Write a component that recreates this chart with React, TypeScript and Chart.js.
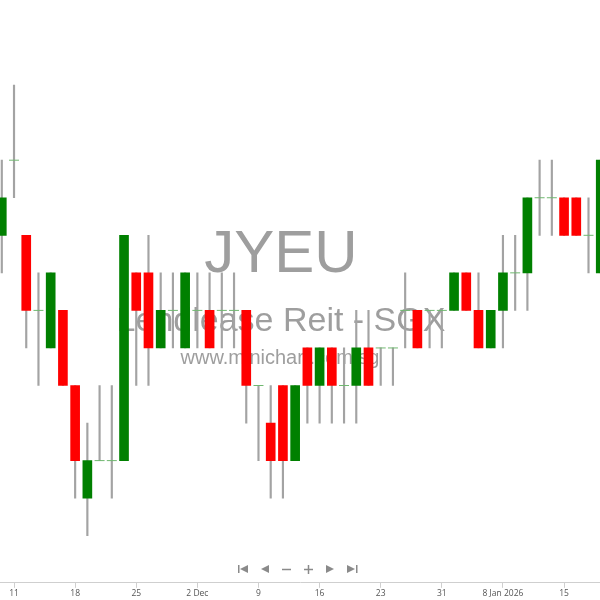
import React, { useEffect, useRef } from "react";
import { Chart, registerables } from "chart.js";

Chart.register(...registerables);

const dates = [
  "2025-11-10", "2025-11-11", "2025-11-12", "2025-11-13", "2025-11-14",
  "2025-11-17", "2025-11-18", "2025-11-19", "2025-11-20", "2025-11-21",
  "2025-11-24", "2025-11-25", "2025-11-26", "2025-11-27", "2025-11-28",
  "2025-12-01", "2025-12-02", "2025-12-03", "2025-12-04", "2025-12-05",
  "2025-12-08", "2025-12-09", "2025-12-10", "2025-12-11", "2025-12-12",
  "2025-12-15", "2025-12-16", "2025-12-17", "2025-12-18", "2025-12-19",
  "2025-12-22", "2025-12-23", "2025-12-24", "2025-12-26", "2025-12-29",
  "2025-12-30", "2025-12-31", "2026-01-02", "2026-01-05", "2026-01-06",
  "2026-01-07", "2026-01-08", "2026-01-09", "2026-01-12", "2026-01-13",
  "2026-01-14", "2026-01-15", "2026-01-16", "2026-01-19", "2026-01-20",
];

const openPrices = [
  0.600, 0.610, 0.600, 0.590, 0.585, 0.590, 0.580, 0.565, 0.570, 0.570,
  0.570, 0.595, 0.595, 0.585, 0.590, 0.585, 0.590, 0.590, 0.590, 0.590,
  0.590, 0.580, 0.575, 0.580, 0.570, 0.585, 0.580, 0.585, 0.580, 0.580,
  0.585, 0.585, 0.585, 0.590, 0.590, 0.590, 0.590, 0.590, 0.595, 0.590,
  0.585, 0.590, 0.595, 0.595, 0.605, 0.605, 0.605, 0.605, 0.600, 0.595,
];
const highPrices = [
  0.610, 0.620, 0.600, 0.595, 0.595, 0.590, 0.580, 0.575, 0.580, 0.580,
  0.600, 0.595, 0.600, 0.595, 0.595, 0.595, 0.595, 0.595, 0.595, 0.595,
  0.590, 0.580, 0.580, 0.580, 0.580, 0.585, 0.585, 0.585, 0.585, 0.590,
  0.590, 0.585, 0.585, 0.595, 0.590, 0.590, 0.590, 0.595, 0.595, 0.595,
  0.590, 0.600, 0.600, 0.605, 0.610, 0.610, 0.605, 0.605, 0.605, 0.610,
];
const lowPrices = [
  0.595, 0.605, 0.585, 0.580, 0.585, 0.580, 0.565, 0.560, 0.570, 0.565,
  0.570, 0.580, 0.580, 0.585, 0.585, 0.585, 0.585, 0.585, 0.585, 0.585,
  0.575, 0.570, 0.565, 0.565, 0.570, 0.575, 0.575, 0.575, 0.575, 0.575,
  0.580, 0.580, 0.580, 0.585, 0.585, 0.585, 0.585, 0.590, 0.590, 0.585,
  0.585, 0.585, 0.590, 0.590, 0.600, 0.600, 0.600, 0.600, 0.595, 0.595,
];
const closePrices = [
  0.605, 0.610, 0.590, 0.590, 0.595, 0.580, 0.570, 0.570, 0.570, 0.570,
  0.600, 0.590, 0.585, 0.590, 0.590, 0.595, 0.590, 0.585, 0.590, 0.590,
  0.580, 0.580, 0.570, 0.570, 0.580, 0.580, 0.585, 0.580, 0.580, 0.585,
  0.580, 0.585, 0.585, 0.590, 0.585, 0.590, 0.590, 0.595, 0.590, 0.585,
  0.590, 0.595, 0.595, 0.605, 0.605, 0.605, 0.600, 0.600, 0.600, 0.610,
];

const tickDates = [
  "2025-11-11", "2025-11-18", "2025-11-25", "2025-12-02", "2025-12-09",
  "2025-12-16", "2025-12-23", "2025-12-31", "2026-01-08", "2026-01-15",
];
const tickLabels = ["11", "18", "25", "2 Dec", "9", "16", "23", "31", "8 Jan 2026", "15"];

const symbol = "JYEU";
const companyName = "Lendlease Reit - SGX";
const siteName = "www.minichart.com.sg";

const watermarkPlugin = {
  id: "watermark",
  beforeDatasetsDraw(chart: any) {
    const { ctx } = chart;
    ctx.save();
    ctx.fillStyle = "#9e9e9e";
    ctx.textAlign = "center";
    ctx.textBaseline = "alphabetic";
    ctx.font = '60px "Liberation Sans", Arial, sans-serif';
    ctx.fillText(symbol, 281, 272);
    ctx.font = '34px "Liberation Sans", Arial, sans-serif';
    ctx.fillText(companyName, 281, 331);
    ctx.font = '20px "Liberation Sans", Arial, sans-serif';
    ctx.fillText(siteName, 280, 364);
    ctx.restore();
  },
};

const navPlugin = {
  id: "nav",
  afterDraw(chart: any) {
    const { ctx } = chart;
    const cy = 569;
    ctx.save();
    ctx.fillStyle = "#8a8a8a";
    ctx.strokeStyle = "#8a8a8a";
    ctx.lineWidth = 1.5;
    const tri = (cx: number, dir: number) => {
      ctx.beginPath();
      ctx.moveTo(cx - 4 * dir, cy);
      ctx.lineTo(cx + 4 * dir, cy - 4);
      ctx.lineTo(cx + 4 * dir, cy + 4);
      ctx.closePath();
      ctx.fill();
    };
    ctx.fillRect(238, cy - 4, 1.5, 8);
    tri(244, 1);
    tri(265, 1);
    ctx.beginPath();
    ctx.moveTo(282, cy + 0.5);
    ctx.lineTo(291, cy + 0.5);
    ctx.stroke();
    ctx.beginPath();
    ctx.moveTo(304, cy + 0.5);
    ctx.lineTo(313, cy + 0.5);
    ctx.moveTo(308.5, cy - 4);
    ctx.lineTo(308.5, cy + 5);
    ctx.stroke();
    tri(330, -1);
    tri(351, -1);
    ctx.fillRect(356, cy - 4, 1.5, 8);
    ctx.restore();
  },
};

export default function App() {
  const canvasRef = useRef<HTMLCanvasElement | null>(null);

  useEffect(() => {
    document.body.style.margin = "0";
    const canvas = canvasRef.current;
    if (!canvas) return;

    const idx = dates.map((_, i) => i);
    const isDoji = (i: number) => openPrices[i] === closePrices[i];
    const bodyIdx = idx.filter((i) => !isDoji(i));
    const dojiIdx = idx.filter((i) => isDoji(i));
    const tickIdx = tickDates.map((d) => dates.indexOf(d));

    const chart = new Chart(canvas, {
      type: "bar",
      data: {
        datasets: [
          {
            type: "bar",
            order: 0,
            data: bodyIdx.map((i) => ({ x: i, y: [openPrices[i], closePrices[i]] })) as any,
            backgroundColor: bodyIdx.map((i) =>
              closePrices[i] > openPrices[i] ? "#008000" : "#ff0000"
            ),
            barThickness: 9,
            grouped: false,
            borderWidth: 0,
          } as any,
          {
            type: "scatter",
            order: 1,
            data: dojiIdx.map((i) => ({ x: i, y: openPrices[i] })),
            pointStyle: "line",
            radius: 5,
            borderColor: "#70b870",
            borderWidth: 1,
          } as any,
          {
            type: "bar",
            order: 2,
            data: idx.map((i) => ({ x: i, y: [lowPrices[i], highPrices[i]] })) as any,
            backgroundColor: "#a3a3a3",
            barThickness: 1.5,
            grouped: false,
            borderWidth: 0,
          } as any,
        ],
      },
      options: {
        responsive: false,
        animation: false,
        layout: { padding: 0, autoPadding: false },
        plugins: {
          legend: { display: false },
          tooltip: { enabled: false },
        },
        scales: {
          x: {
            type: "linear",
            min: -0.147,
            max: 48.94,
            offset: false,
            afterBuildTicks: (scale: any) => {
              scale.ticks = tickIdx.map((v) => ({ value: v }));
            },
            ticks: {
              autoSkip: false,
              maxRotation: 0,
              padding: 1,
              color: "#555",
              font: { family: '"Open Sans", sans-serif', size: 8.5 },
              callback: (v: any) => {
                const k = tickIdx.indexOf(Number(v));
                return k >= 0 ? tickLabels[k] : "";
              },
            },
            grid: {
              offset: false,
              drawOnChartArea: false,
              drawTicks: true,
              tickLength: 5,
              color: "#cfcfcf",
            },
            border: { color: "#cfcfcf" },
          },
          y: {
            display: false,
            min: 0.55373,
            max: 0.63133,
          },
        },
      },
      plugins: [watermarkPlugin, navPlugin],
    });

    return () => chart.destroy();
  }, []);

  return (
    <div style={{ position: "fixed", left: 0, top: 0, width: 600, height: 600, background: "#fff" }}>
      <canvas ref={canvasRef} width={600} height={600} />
    </div>
  );
}
